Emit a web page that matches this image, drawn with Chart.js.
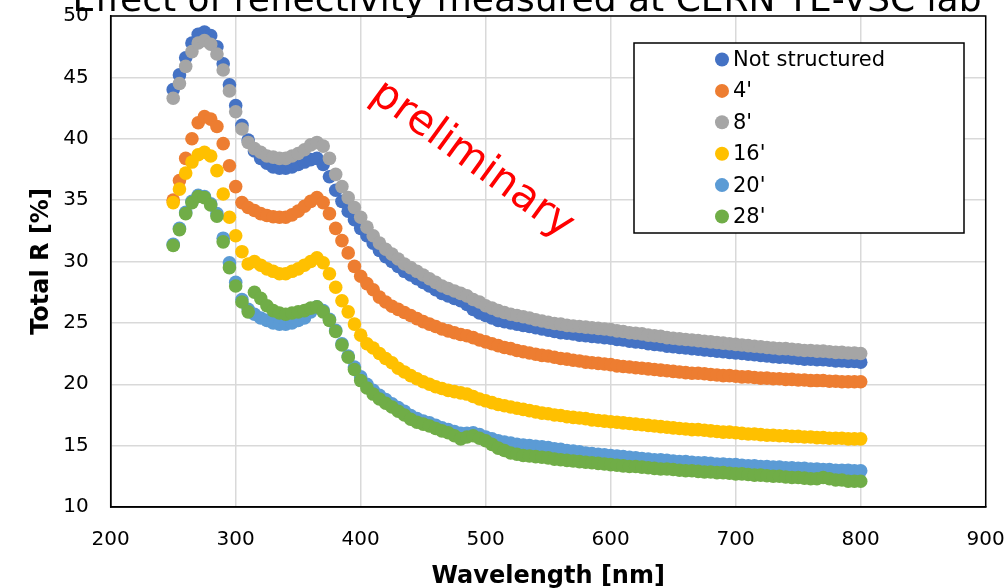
<!DOCTYPE html>
<html>
<head>
<meta charset="utf-8">
<script src="https://cdn.jsdelivr.net/npm/chart.js@4/dist/chart.umd.min.js"></script>
<style>
  html, body { margin: 0; padding: 0; background: #fff; }
  #wrap { width: 1007px; height: 588px; overflow: hidden; }
</style>
</head>
<body>
<div id="wrap"><canvas id="reflChart" width="1007" height="588"></canvas></div>
<script>
const wavelengths = [
  250, 255, 260, 265, 270, 275, 280, 285, 290, 295,
  300, 305, 310, 315, 320, 325, 330, 335, 340, 345,
  350, 355, 360, 365, 370, 375, 380, 385, 390, 395,
  400, 405, 410, 415, 420, 425, 430, 435, 440, 445,
  450, 455, 460, 465, 470, 475, 480, 485, 490, 495,
  500, 505, 510, 515, 520, 525, 530, 535, 540, 545,
  550, 555, 560, 565, 570, 575, 580, 585, 590, 595,
  600, 605, 610, 615, 620, 625, 630, 635, 640, 645,
  650, 655, 660, 665, 670, 675, 680, 685, 690, 695,
  700, 705, 710, 715, 720, 725, 730, 735, 740, 745,
  750, 755, 760, 765, 770, 775, 780, 785, 790, 795, 800
];

const notStructured = [
  44.0, 45.2, 46.6, 47.8, 48.5, 48.7, 48.4, 47.5, 46.1, 44.4,
  42.7, 41.1, 39.9, 39.0, 38.4, 38.0, 37.7, 37.6, 37.6, 37.7,
  37.9, 38.1, 38.3, 38.4, 37.9, 36.9, 35.8, 34.9, 34.1, 33.4,
  32.7, 32.1, 31.5, 30.9, 30.4, 30.0, 29.6, 29.2, 28.9, 28.6,
  28.3, 28.0, 27.7, 27.4, 27.2, 27.0, 26.8, 26.5, 26.1, 25.8,
  25.6, 25.4, 25.2, 25.1, 25.0, 24.9, 24.8, 24.7, 24.6, 24.5,
  24.4, 24.3, 24.2, 24.15, 24.1, 24.0, 23.95, 23.9, 23.85, 23.8,
  23.75, 23.65, 23.6, 23.5, 23.45, 23.4, 23.3, 23.25, 23.2, 23.1,
  23.05, 23.0, 22.95, 22.9, 22.85, 22.8, 22.75, 22.7, 22.65, 22.6,
  22.55, 22.5, 22.45, 22.4, 22.35, 22.3, 22.25, 22.2, 22.2, 22.15,
  22.1, 22.05, 22.05, 22.0, 22.0, 21.95, 21.9, 21.9, 21.85, 21.85, 21.8
];

const struct4 = [
  35.0, 36.6, 38.4, 40.0, 41.3, 41.8, 41.6, 41.0, 39.6, 37.8,
  36.1, 34.8, 34.4, 34.15, 33.9, 33.75, 33.65, 33.6, 33.6, 33.8,
  34.1, 34.5, 34.9, 35.2, 34.8, 33.9, 32.7, 31.7, 30.7, 29.6,
  28.8, 28.2, 27.7, 27.1, 26.7, 26.35, 26.1, 25.85, 25.6, 25.35,
  25.1, 24.9, 24.7, 24.5, 24.35, 24.2, 24.05, 23.95, 23.8, 23.6,
  23.45, 23.3, 23.15, 23.0, 22.9, 22.75, 22.65, 22.55, 22.45, 22.35,
  22.3, 22.2, 22.1, 22.05, 21.95, 21.9, 21.8, 21.75, 21.7, 21.65,
  21.6, 21.5, 21.45, 21.4, 21.35, 21.3, 21.25, 21.2, 21.15, 21.1,
  21.05, 21.0, 20.95, 20.9, 20.9, 20.85, 20.8, 20.75, 20.7, 20.7,
  20.65, 20.6, 20.6, 20.55, 20.5, 20.5, 20.45, 20.45, 20.4, 20.4,
  20.35, 20.35, 20.3, 20.3, 20.3, 20.25, 20.25, 20.2, 20.2, 20.2, 20.2
];

const struct8 = [
  43.3, 44.5, 45.9, 47.1, 47.8, 48.0, 47.7, 46.9, 45.6, 43.9,
  42.2, 40.8, 39.7, 39.2, 38.9, 38.6, 38.5, 38.4, 38.4, 38.6,
  38.8, 39.1, 39.5, 39.7, 39.4, 38.4, 37.1, 36.1, 35.2, 34.4,
  33.6, 32.8, 32.1, 31.5, 31.0, 30.6, 30.2, 29.8, 29.5, 29.2,
  28.9, 28.6, 28.3, 28.0, 27.8, 27.6, 27.4, 27.2, 26.9, 26.7,
  26.4, 26.2, 26.0, 25.85, 25.7, 25.6, 25.5, 25.4, 25.25, 25.15,
  25.05, 24.95, 24.9, 24.8, 24.75, 24.7, 24.65, 24.6, 24.55, 24.5,
  24.45, 24.35, 24.3, 24.2, 24.15, 24.1, 24.0, 23.95, 23.9, 23.8,
  23.75, 23.7, 23.65, 23.6, 23.55, 23.5, 23.45, 23.4, 23.35, 23.3,
  23.25, 23.2, 23.15, 23.1, 23.05, 23.0, 22.95, 22.9, 22.9, 22.85,
  22.8, 22.75, 22.75, 22.7, 22.7, 22.65, 22.6, 22.6, 22.55, 22.55, 22.5
];

const struct16 = [
  34.8, 35.9, 37.2, 38.1, 38.7, 38.9, 38.6, 37.4, 35.5, 33.6,
  32.1, 30.8, 29.8, 30.0, 29.7, 29.4, 29.2, 29.0, 29.0, 29.2,
  29.4, 29.7, 30.0, 30.3, 29.9, 29.0, 27.9, 26.8, 25.9, 24.9,
  24.0, 23.3, 22.95, 22.5, 22.1, 21.75, 21.3, 21.0, 20.7, 20.45,
  20.2, 20.0, 19.8, 19.65, 19.5, 19.4, 19.3, 19.2, 19.0, 18.8,
  18.65, 18.5, 18.35, 18.25, 18.15, 18.05, 17.95, 17.85, 17.75, 17.65,
  17.6, 17.5, 17.45, 17.35, 17.3, 17.25, 17.2, 17.1, 17.05, 17.0,
  16.95, 16.9, 16.85, 16.8, 16.75, 16.7, 16.65, 16.6, 16.55, 16.5,
  16.45, 16.4, 16.35, 16.3, 16.3, 16.25, 16.2, 16.15, 16.1, 16.1,
  16.05, 16.0, 15.95, 15.95, 15.9, 15.85, 15.85, 15.8, 15.8, 15.75,
  15.75, 15.7, 15.7, 15.65, 15.65, 15.6, 15.6, 15.6, 15.55, 15.55, 15.55
];

const struct20 = [
  31.4, 32.7, 34.0, 34.9, 35.4, 35.3, 34.7, 33.9, 31.9, 29.9,
  28.3, 26.9, 26.1, 25.7, 25.4, 25.2, 25.0, 24.9, 24.9, 25.0,
  25.2, 25.4, 25.9, 26.3, 26.0, 25.3, 24.4, 23.3, 22.3, 21.4,
  20.6, 20.0, 19.5, 19.1, 18.75, 18.4, 18.1, 17.8, 17.45, 17.2,
  17.0, 16.85, 16.65, 16.45, 16.3, 16.15, 16.0, 16.0, 16.05, 15.9,
  15.7, 15.55, 15.4, 15.3, 15.2, 15.1, 15.05, 15.0, 14.95, 14.9,
  14.85, 14.75, 14.7, 14.6, 14.55, 14.5, 14.4, 14.35, 14.3, 14.25,
  14.2, 14.15, 14.1, 14.05, 14.0, 13.95, 13.9, 13.85, 13.85, 13.8,
  13.75, 13.7, 13.7, 13.65, 13.6, 13.6, 13.55, 13.5, 13.5, 13.45,
  13.45, 13.4, 13.35, 13.35, 13.3, 13.3, 13.25, 13.25, 13.2, 13.2,
  13.15, 13.15, 13.1, 13.1, 13.05, 13.05, 13.0, 13.0, 13.0, 12.95, 12.95
];

const struct28 = [
  31.3, 32.6, 33.9, 34.8, 35.3, 35.2, 34.6, 33.7, 31.6, 29.5,
  28.0, 26.7, 25.9, 27.5, 27.0, 26.4, 26.0, 25.8, 25.7, 25.8,
  25.9, 26.0, 26.2, 26.3, 25.9, 25.2, 24.3, 23.2, 22.2, 21.2,
  20.3, 19.7, 19.2, 18.8, 18.45, 18.15, 17.8, 17.5, 17.15, 16.9,
  16.75, 16.6, 16.4, 16.2, 16.05, 15.8, 15.55, 15.7, 15.8, 15.6,
  15.4, 15.1, 14.8, 14.6, 14.4, 14.3, 14.2, 14.15, 14.1, 14.05,
  14.0, 13.9, 13.85, 13.8, 13.75, 13.7, 13.65, 13.6, 13.55, 13.5,
  13.45, 13.4, 13.35, 13.3, 13.3, 13.25, 13.2, 13.15, 13.1, 13.1,
  13.05, 13.0, 12.95, 12.95, 12.9, 12.85, 12.85, 12.8, 12.8, 12.75,
  12.7, 12.7, 12.65, 12.6, 12.6, 12.55, 12.5, 12.5, 12.45, 12.4,
  12.4, 12.35, 12.3, 12.3, 12.4, 12.3, 12.2, 12.2, 12.1, 12.1, 12.1
];

const seriesNames = ['Not structured', "4'", "8'", "16'", "20'", "28'"];
const seriesValues = [notStructured, struct4, struct8, struct16, struct20, struct28];
const seriesColors = ['#4472C4', '#ED7D31', '#A5A5A5', '#FFC000', '#5B9BD5', '#70AD47'];

const xTicks = { min: 200, max: 900, step: 100 };
const yTicks = { min: 10, max: 50, step: 5 };

const chartTitle = 'Effect of reflectivity measured at CERN TE-VSC lab';
const stampText = 'preliminary';

const FONT = 'DejaVu Sans';

// later series sit on top, like the spreadsheet draws them
const datasets = seriesNames.map((name, i) => ({
    label: name,
    data: wavelengths.map((w, j) => ({ x: w, y: seriesValues[i][j] })),
    backgroundColor: seriesColors[i],
    borderWidth: 0,
    pointRadius: 6.8,
    pointHoverRadius: 6.8,
    showLine: false,
    order: seriesNames.length - i
}));

// title sits partly above the page edge, under the tick labels
const titlePlugin = {
    id: 'topTitle',
    beforeDraw(chart) {
        const ctx = chart.ctx;
        ctx.save();
        ctx.font = '36px "' + FONT + '"';
        ctx.fillStyle = '#000';
        ctx.textAlign = 'center';
        ctx.textBaseline = 'alphabetic';
        ctx.fillText(chartTitle, 527, 11);
        ctx.restore();
    }
};

const framePlugin = {
    id: 'frame',
    afterDatasetsDraw(chart) {
        const a = chart.chartArea;
        const ctx = chart.ctx;
        ctx.save();
        ctx.strokeStyle = '#000';
        ctx.lineWidth = 1.5;
        ctx.strokeRect(a.left, a.top, a.right - a.left, a.bottom - a.top);
        ctx.restore();
    }
};

const stampPlugin = {
    id: 'stamp',
    afterDatasetsDraw(chart) {
        const ctx = chart.ctx;
        ctx.save();
        ctx.translate(472, 160);
        ctx.rotate(36 * Math.PI / 180);
        ctx.font = '42px "' + FONT + '"';
        ctx.fillStyle = '#FF0000';
        ctx.textAlign = 'center';
        ctx.textBaseline = 'middle';
        ctx.fillText(stampText, 0, 0);
        ctx.restore();
    }
};

const boxLegendPlugin = {
    id: 'boxLegend',
    afterDraw(chart) {
        const ctx = chart.ctx;
        const box = { x: 634, y: 43, w: 330, h: 190 };
        ctx.save();
        ctx.fillStyle = '#fff';
        ctx.fillRect(box.x, box.y, box.w, box.h);
        ctx.strokeStyle = '#000';
        ctx.lineWidth = 1.5;
        ctx.strokeRect(box.x, box.y, box.w, box.h);
        ctx.font = '21px "' + FONT + '"';
        ctx.textAlign = 'left';
        ctx.textBaseline = 'middle';
        chart.data.datasets.forEach((ds, i) => {
            const cy = 59.5 + i * 31.4;
            ctx.fillStyle = ds.backgroundColor;
            ctx.beginPath();
            ctx.arc(722, cy, 7, 0, Math.PI * 2);
            ctx.fill();
            ctx.fillStyle = '#000';
            ctx.fillText(ds.label, 733, cy + 1);
        });
        ctx.restore();
    }
};

const ctx = document.getElementById('reflChart').getContext('2d');
new Chart(ctx, {
    type: 'scatter',
    data: { datasets: datasets },
    options: {
        responsive: false,
        animation: false,
        devicePixelRatio: 1,
        layout: { padding: { top: 16, right: 21.3, left: 0, bottom: 0 } },
        plugins: {
            legend: { display: false },
            tooltip: { enabled: false }
        },
        scales: {
            x: {
                type: 'linear',
                min: xTicks.min,
                max: xTicks.max,
                ticks: {
                    stepSize: xTicks.step,
                    color: '#000',
                    font: { family: FONT, size: 20 },
                    padding: 21,
                    maxRotation: 0
                },
                grid: { color: '#d9d9d9', lineWidth: 1.5, drawTicks: false },
                border: { color: '#000', width: 1.5 },
                title: {
                    display: true,
                    text: 'Wavelength [nm]',
                    color: '#000',
                    font: { family: FONT, size: 24, weight: 'bold' },
                    padding: { top: 0, bottom: -3 }
                },
                // fixed band height; label overhang is covered by the layout padding
                afterFit: s => { s.height = 81; s.paddingLeft = 0; s.paddingRight = 0; }
            },
            y: {
                min: yTicks.min,
                max: yTicks.max,
                ticks: {
                    stepSize: yTicks.step,
                    color: '#000',
                    font: { family: FONT, size: 20 },
                    padding: 22
                },
                grid: { color: '#d9d9d9', lineWidth: 1.5, drawTicks: false },
                border: { color: '#000', width: 1.5 },
                title: {
                    display: true,
                    text: 'Total R [%]',
                    color: '#000',
                    font: { family: FONT, size: 24, weight: 'bold' },
                    padding: { top: 27, bottom: 0 }
                },
                afterFit: s => { s.width = 110.7; s.paddingTop = 0; s.paddingBottom = 0; }
            }
        }
    },
    plugins: [titlePlugin, framePlugin, stampPlugin, boxLegendPlugin]
});
</script>
</body>
</html>
